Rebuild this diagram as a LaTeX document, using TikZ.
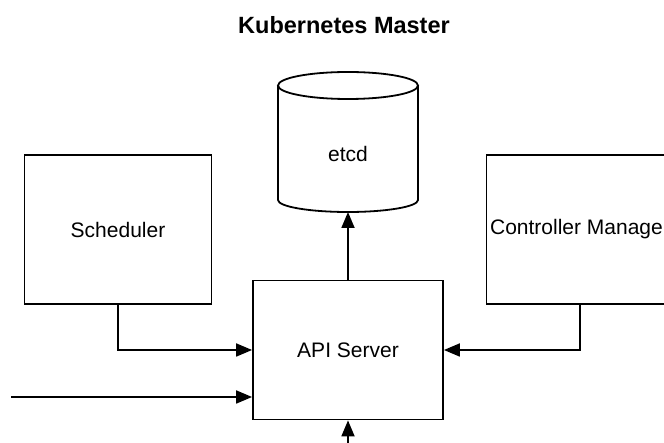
\documentclass[tikz,border=0pt]{standalone}
\usepackage{fontspec}
\setmainfont{Liberation Sans}
\usetikzlibrary{arrows.meta}

\begin{document}
\begin{tikzpicture}[x=1pt,y=-1pt, line width=1.8pt,
  box/.style={draw, minimum width=187pt, minimum height=149pt, font=\fontsize{21}{25}\selectfont},
  lbl/.style={font=\fontsize{21}{25}\selectfont},
  arr/.style={-{Triangle[length=16pt,width=13pt]}}]
\useasboundingbox (0,0) rectangle (664,443);
\clip (0,0) rectangle (664,443);
\def\etcdTop{(348,85.5) ellipse [x radius=70pt, y radius=13.5pt]}
%
\node[font=\bfseries\fontsize{23.5}{28}\selectfont] (title) at (344,25) {Kubernetes Master};
%
% etcd :
\draw \etcdTop;
\draw (278,85.5) -- (278,200) arc[start angle=180, end angle=360, x radius=70pt, y radius=12pt] -- (418,85.5);
\node[lbl] (etcd) at (348,154) {etcd};
\coordinate (etcdbot) at (348,212);
%
\node[box] (sched) at (118,229.5) {Scheduler};
\node[box, minimum height=139pt, minimum width=190pt] (api) at (348,350) {API Server};
\node[box] (ctrl) at (580,229.5) {Controller Manager};
%
% Fleches :
\draw[arr] (api.north) -- (etcdbot);
\draw[arr] (sched.south) |- (api.west);
\draw[arr] (ctrl.south) |- (api.east);
\coordinate (in) at (11,397);
\draw[arr] (in) -- (in -| api.west);
\coordinate (bot) at (348,443);
\draw[arr] (bot) -- (api.south);
\end{tikzpicture}
\end{document}
